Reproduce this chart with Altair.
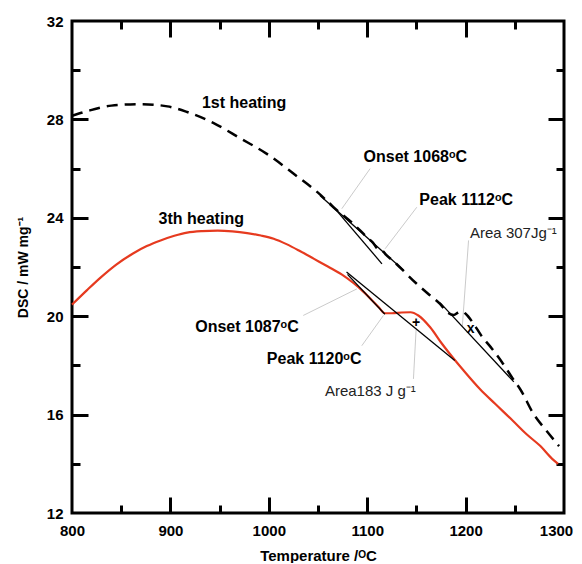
import altair as alt
import pandas as pd

# ---- axes ----
x_domain = [800, 1300]
y_domain = [12, 32]
x_labels = [800, 900, 1000, 1100, 1200]
x_last_label = [1300]
y_labels = [12, 16, 20, 24, 28, 32]
x_major = [900, 1000, 1100, 1200]
x_minor = [850, 950, 1050, 1150, 1250]
y_major = [16, 20, 24, 28]
y_minor = [14, 18, 22, 26, 30]

# ---- 1st heating (dashed) ----
h1_t = [800, 815, 840, 870, 897, 917, 944, 971, 998, 1025, 1052, 1066, 1086,
        1100, 1106, 1111, 1115, 1119, 1126, 1150, 1164, 1174, 1182, 1188, 1192,
        1196, 1200, 1208, 1216, 1227, 1237, 1247, 1256, 1269, 1282, 1295]
h1_v = [28.15, 28.33, 28.56, 28.62, 28.53, 28.3, 27.85, 27.23, 26.6, 25.8,
        24.95, 24.42, 23.75, 23.2, 22.98, 22.72, 22.68, 22.5, 22.26, 21.33,
        20.84, 20.5, 20.14, 20.05, 20.14, 20.2, 20.1, 19.7, 19.21, 18.67,
        18.13, 17.52, 17.0, 16.03, 15.35, 14.72]

# ---- 3th heating (red) ----
h3_t = [800, 815, 829, 845, 862, 876, 890, 904, 917, 932, 948, 963, 978, 992,
        1005, 1018, 1032, 1046, 1060, 1074, 1086, 1096, 1106, 1112, 1118, 1125,
        1135, 1144, 1152, 1164, 1176, 1188, 1198, 1215, 1230, 1248, 1262, 1276,
        1288, 1294]
h3_v = [20.47, 21.05, 21.57, 22.1, 22.55, 22.85, 23.08, 23.27, 23.4, 23.46,
        23.48, 23.45, 23.38, 23.28, 23.15, 22.93, 22.64, 22.33, 22.02, 21.7,
        21.35, 21.0, 20.6, 20.35, 20.12, 20.12, 20.15, 20.16, 20.03, 19.55,
        18.88, 18.27, 17.79, 17.02, 16.44, 15.75, 15.2, 14.72, 14.2, 14.0]

# ---- tangent lines ----
tan_t1 = [1052, 1062, 1079, 1080, 1174]
tan_v1 = [24.91, 24.62, 21.8, 21.7, 20.55]
tan_t2 = [1137, 1115, 1189, 1118, 1249]
tan_v2 = [21.87, 22.13, 18.2, 20.08, 17.33]

# ---- leader lines ----
lead_t1 = [1103, 1150.4, 1203, 1035, 1094.5, 1147]
lead_v1 = [26.0, 24.43, 23.08, 20.03, 18.8, 17.45]
lead_t2 = [1074.2, 1118.2, 1196.7, 1089.5, 1116.5, 1149.7]
lead_v2 = [24.37, 22.74, 19.6, 21.11, 20.03, 19.45]

# ---- labels ----
bold_text = ["1st heating", "3th heating", "Onset 1068ᵒC", "Peak 1112ᵒC",
             "Onset 1087ᵒC", "Peak 1120ᵒC"]
bold_t = [932, 888, 1096.3, 1153, 925.2, 998]
bold_v = [28.66, 23.96, 26.47, 24.71, 19.58, 18.24]
norm_text = ["Area 307Jg⁻¹", "Area183 J g⁻¹"]
norm_t = [1204.5, 1057]
norm_v = [23.37, 16.97]
sym_text = ["+", "x"]
sym_t = [1149.7, 1205.2]
sym_v = [19.71, 19.46]

W, H = 492, 492
FONT = "Liberation Sans"
xs = alt.Scale(domain=x_domain, nice=False, zero=False)
ys = alt.Scale(domain=y_domain, nice=False, zero=False)

frame_df = pd.DataFrame({"t": x_domain, "v": y_domain})
box_df = pd.DataFrame({"t0": [x_domain[0]], "t1": [x_domain[1]],
                       "v0": [y_domain[0]], "v1": [y_domain[1]]})


def tick_layer(xv, yv, size, xo, yo):
    return alt.Chart(frame_df).mark_point(opacity=0).encode(
        x=alt.X("t:Q", scale=xs, axis=alt.Axis(
            orient=xo, offset=-H, values=xv, labels=False, grid=False, title="",
            domain=False, tickColor="black", tickWidth=3, tickSize=size)),
        y=alt.Y("v:Q", scale=ys, axis=alt.Axis(
            orient=yo, offset=-W, values=yv, labels=False, grid=False, title="",
            domain=False, tickColor="black", tickWidth=3, tickSize=size)),
    )


ticks = [
    tick_layer(x_major, y_major, 16, "top", "right"),
    tick_layer(x_minor, y_minor, 8, "top", "right"),
    tick_layer(x_major, y_major, 16, "bottom", "left"),
    tick_layer(x_minor, y_minor, 8, "bottom", "left"),
]

box = alt.Chart(box_df).mark_rect(fillOpacity=0, stroke="black", strokeWidth=3).encode(
    x=alt.X("t0:Q", scale=xs, axis=None), x2="t1:Q",
    y=alt.Y("v0:Q", scale=ys, axis=None), y2="v1:Q")

label_common = dict(format="d", labelFlush=False, ticks=False, domain=False, grid=False,
                    labelFont=FONT, labelFontSize=15, labelFontWeight="bold",
                    labelColor="black")

label_layer = alt.Chart(frame_df).mark_point(opacity=0).encode(
    x=alt.X("t:Q", scale=xs, axis=alt.Axis(
        orient="bottom", values=x_labels, labelPadding=10,
        title="Temperature /ᴼC", titleFont=FONT, titleFontSize=15,
        titleFontWeight="bold", titleColor="black", titlePadding=10,
        **label_common)),
    y=alt.Y("v:Q", scale=ys, axis=alt.Axis(
        orient="left", values=y_labels, labelPadding=9,
        title="DSC / mW mg⁻¹", titleFont=FONT, titleFontSize=14,
        titleFontWeight="bold", titleColor="black", titlePadding=16,
        **label_common)),
)

last_label_layer = alt.Chart(frame_df).mark_point(opacity=0).encode(
    x=alt.X("t:Q", scale=xs, axis=alt.Axis(
        orient="bottom", values=x_last_label, labelPadding=10, labelOffset=-8,
        title="", **label_common)),
    y=alt.Y("v:Q", scale=ys, axis=None),
)

h1 = alt.Chart(pd.DataFrame({"t": h1_t, "v": h1_v})).mark_line(
    color="black", strokeWidth=2.5, strokeDash=[11, 7], interpolate="monotone"
).encode(x=alt.X("t:Q", scale=xs, axis=None), y=alt.Y("v:Q", scale=ys, axis=None))

h3 = alt.Chart(pd.DataFrame({"t": h3_t, "v": h3_v})).mark_line(
    color="#e63a1f", strokeWidth=2.2, interpolate="monotone"
).encode(x=alt.X("t:Q", scale=xs, axis=None), y=alt.Y("v:Q", scale=ys, axis=None))

tan = alt.Chart(pd.DataFrame({"t1": tan_t1, "v1": tan_v1, "t2": tan_t2, "v2": tan_v2})).mark_rule(
    color="black", strokeWidth=1.3
).encode(x=alt.X("t1:Q", scale=xs, axis=None), x2="t2:Q",
         y=alt.Y("v1:Q", scale=ys, axis=None), y2="v2:Q")

lead = alt.Chart(pd.DataFrame({"t1": lead_t1, "v1": lead_v1, "t2": lead_t2, "v2": lead_v2})).mark_rule(
    color="#c4c4c4", strokeWidth=0.9
).encode(x=alt.X("t1:Q", scale=xs, axis=None), x2="t2:Q",
         y=alt.Y("v1:Q", scale=ys, axis=None), y2="v2:Q")

bold_lab = alt.Chart(pd.DataFrame({"t": bold_t, "v": bold_v, "s": bold_text})).mark_text(
    align="left", baseline="middle", font=FONT, fontSize=16, fontWeight="bold", color="black"
).encode(x=alt.X("t:Q", scale=xs, axis=None), y=alt.Y("v:Q", scale=ys, axis=None), text="s:N")

norm_lab = alt.Chart(pd.DataFrame({"t": norm_t, "v": norm_v, "s": norm_text})).mark_text(
    align="left", baseline="middle", font=FONT, fontSize=15, color="#222222"
).encode(x=alt.X("t:Q", scale=xs, axis=None), y=alt.Y("v:Q", scale=ys, axis=None), text="s:N")

sym = alt.Chart(pd.DataFrame({"t": sym_t, "v": sym_v, "s": sym_text})).mark_text(
    align="center", baseline="middle", font=FONT, fontSize=14, fontWeight="bold", color="black"
).encode(x=alt.X("t:Q", scale=xs, axis=None), y=alt.Y("v:Q", scale=ys, axis=None), text="s:N")

chart = alt.layer(
    *ticks, label_layer, last_label_layer, box, lead, h3, h1, tan, sym, bold_lab, norm_lab
).resolve_axis(x="independent", y="independent").properties(
    width=W, height=H,
    autosize=alt.AutoSizeParams(type="none"),
    padding={"left": 64, "top": 13, "right": 10, "bottom": 50},
).configure_view(stroke=None)

chart.save("out.html", embed_options={"renderer": "svg", "actions": False})
